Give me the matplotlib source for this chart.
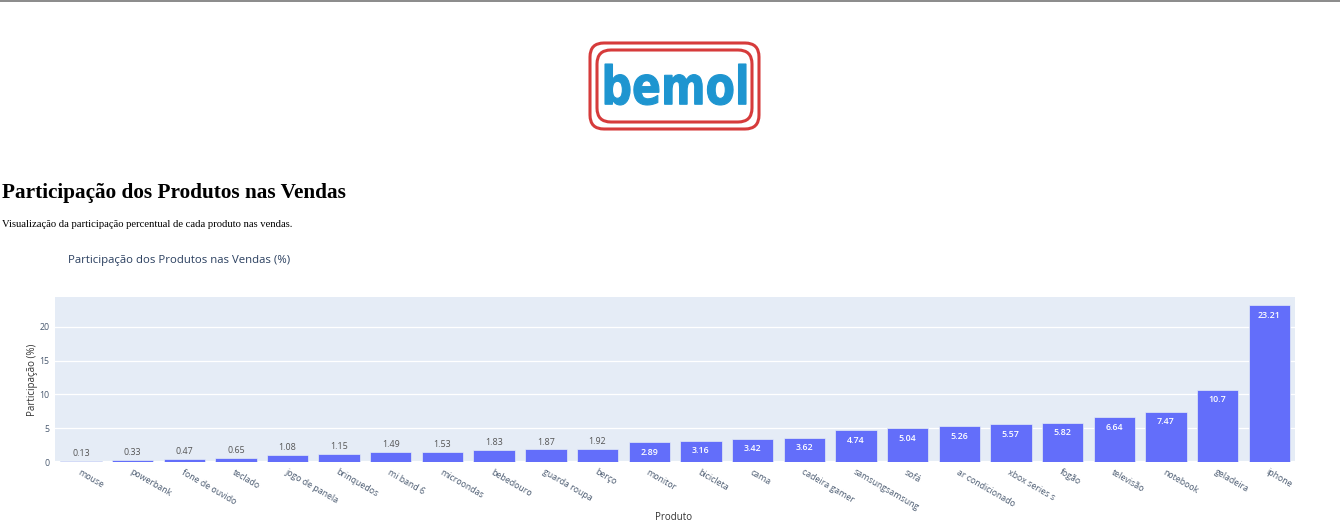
import numpy as np
import matplotlib.pyplot as plt
from matplotlib.patches import FancyBboxPatch, PathPatch
from matplotlib.textpath import TextPath
from matplotlib.font_manager import FontProperties
from matplotlib.transforms import Affine2D

produtos = ['mouse', 'powerbank', 'fone de ouvido', 'teclado', 'jogo de panela',
            'brinquedos', 'mi band 6', 'microondas', 'bebedouro', 'guarda roupa',
            'berço', 'monitor', 'bicicleta', 'cama', 'cadeira gamer',
            'samsungsamsung', 'sofá', 'ar condicionado', 'xbox series s', 'fogão',
            'televisão', 'notebook', 'geladeira', 'iphone']
participacao = [0.13, 0.33, 0.47, 0.65, 1.08, 1.15, 1.49, 1.53, 1.83, 1.87,
                1.92, 2.89, 3.16, 3.42, 3.62, 4.74, 5.04, 5.26, 5.57, 5.82,
                6.64, 7.47, 10.7, 23.21]
yticks = [0, 5, 10, 15, 20]

W, H = 1340, 532
fig = plt.figure(figsize=(W / 100, H / 100), dpi=100)

# borda superior da pagina
fig.add_artist(plt.Line2D([0, 1], [1 - 1 / H, 1 - 1 / H], color='#777777', lw=1.2))

# logo bemol (desenhado)
lax = fig.add_axes([585 / W, 1 - 135 / H, 180 / W, 100 / H])
lax.set_xlim(585, 765)
lax.set_ylim(135, 35)
lax.axis('off')
for (x0, y0, x1, y1) in [(590, 43, 759, 129), (597, 50, 752, 122)]:
    lax.add_patch(FancyBboxPatch((x0, y0), x1 - x0, y1 - y0,
                                 boxstyle='round,pad=0,rounding_size=14',
                                 fc='none', ec='#d63b3b', lw=2.2))
tp = TextPath((0, 0), 'bemol', size=10, prop=FontProperties(family='DejaVu Sans', weight='bold'))
bb = tp.get_extents()
# encaixa o texto na caixa x 605-746, y 64-105 (y pra baixo)
sx = (746 - 605) / bb.width
sy = (105 - 64) / bb.height
tr = Affine2D().translate(-bb.x0, -bb.y0).scale(sx, -sy).translate(605, 105)
lax.add_patch(PathPatch(tr.transform_path(tp), fc='#1e95d0', ec='#1e95d0', lw=0.8))

# cabecalho da pagina
fig.text(2 / W, 1 - 193 / H, 'Participação dos Produtos nas Vendas',
         family='Liberation Serif', fontweight='bold', fontsize=15.3,
         ha='left', va='center', color='black')
fig.text(2 / W, 1 - 225 / H, 'Visualização da participação percentual de cada produto nas vendas.',
         family='Liberation Serif', fontsize=7.7, ha='left', va='center', color='black')

# titulo do grafico
fig.text(68 / W, 1 - 260 / H, 'Participação dos Produtos nas Vendas (%)',
         family='Open Sans', fontsize=8.2, color='#2a3f5f', ha='left', va='center')

ax = fig.add_axes([55 / W, 1 - 462 / H, 1240 / W, 165 / H])
ax.set_facecolor('#e5ecf6')
x = np.arange(len(produtos))
bars = ax.bar(x, participacao, width=0.8, color='#636efa',
              edgecolor='#e5ecf6', linewidth=0.5, zorder=3)
ax.set_xlim(-0.5, len(produtos) - 0.5)
ax.set_ylim(0, 24.43)
ax.set_yticks(yticks)
ax.set_yticklabels([str(t) for t in yticks])
ax.grid(axis='y', color='white', lw=0.9, zorder=0)
ax.axhline(0, color='white', lw=1.6, zorder=1)
for s in ax.spines.values():
    s.set_visible(False)
ax.tick_params(axis='both', length=0, labelsize=6.3, labelcolor='#4a5a70', pad=4)
for lab in ax.get_yticklabels():
    lab.set_family('Open Sans')

ax.set_xticks(x)
ax.set_xticklabels(produtos, rotation=-30, ha='left', va='top',
                   rotation_mode='anchor', family='Open Sans', fontsize=6.3,
                   color='#4a5a70')

for xi, v in zip(x, participacao):
    lbl = f'{v:g}'
    if v >= 2.5:
        ax.annotate(lbl, (xi, v), xytext=(0, -4), textcoords='offset points',
                    ha='center', va='top', color='white', fontsize=6.4,
                    family='Open Sans', fontweight='semibold', zorder=4)
    else:
        ax.annotate(lbl, (xi, v), xytext=(0, 2), textcoords='offset points',
                    ha='center', va='bottom', color='#555555', fontsize=6.4,
                    family='Open Sans', zorder=4)

ax.set_ylabel('Participação (%)', family='Open Sans', fontsize=7, color='#333333', labelpad=1)
fig.text(674 / W, 1 - 518 / H, 'Produto', family='Open Sans', fontsize=7,
         color='#333333', ha='center', va='center')

fig.savefig('out.png', dpi=100, facecolor='white')
